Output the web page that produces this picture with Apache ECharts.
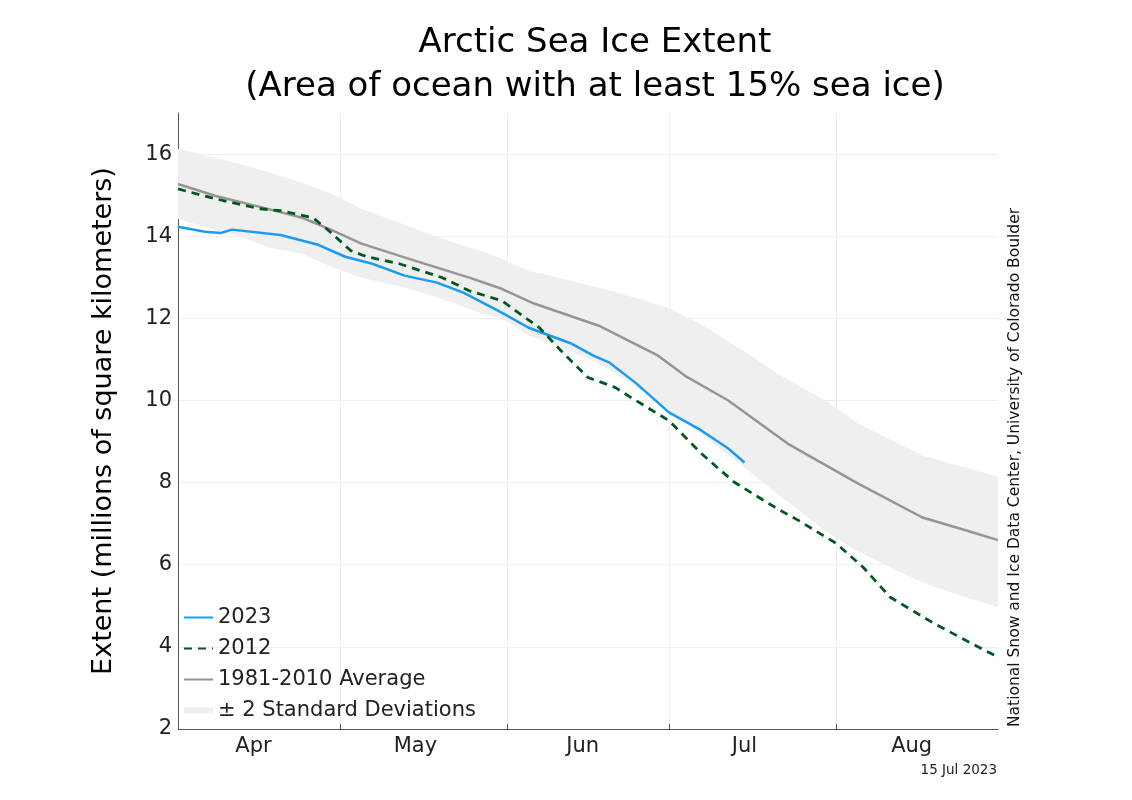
<!DOCTYPE html>
<html>
<head>
<meta charset="utf-8">
<script src="https://cdn.jsdelivr.net/npm/echarts@6/dist/echarts.min.js"></script>
<style>
  html, body { margin: 0; padding: 0; background: #ffffff; }
  #chart { width: 1132px; height: 800px; }
</style>
</head>
<body>
<div id="chart"></div>
<script>
// ---- Data (day index 0 = 1 April) ----
const monthNames = ['Jan','Feb','Mar','Apr','May','Jun','Jul','Aug','Sep','Oct','Nov','Dec'];

const days2023   = [0, 5, 8, 10, 19, 26, 31, 36, 42, 48, 53, 60, 65, 73, 77, 80, 85, 91, 97, 102, 105];
const values2023 = [14.23, 14.11, 14.08, 14.16, 14.03, 13.79, 13.5, 13.33, 13.04, 12.87, 12.62, 12.14, 11.77, 11.38, 11.09, 10.92, 10.41, 9.71, 9.27, 8.83, 8.49];

const days2012   = [0, 7, 15, 19, 25, 28, 32, 35, 41, 49, 54, 60, 67, 71, 76, 81, 84, 91, 97, 103, 111, 115, 122, 127, 132, 140, 146, 152];
const values2012 = [15.15, 14.91, 14.67, 14.62, 14.45, 14.13, 13.65, 13.5, 13.33, 12.99, 12.67, 12.43, 11.77, 11.21, 10.56, 10.32, 10.07, 9.51, 8.71, 8.02, 7.37, 7.08, 6.52, 5.94, 5.21, 4.58, 4.16, 3.75];

const avgDays   = [0, 7, 15, 23, 28, 34, 44, 54, 60, 66, 78, 89, 94, 102, 113, 126, 138, 146, 152];
const avgValues = [15.27, 14.98, 14.72, 14.45, 14.18, 13.82, 13.4, 12.99, 12.72, 12.36, 11.82, 11.09, 10.6, 10.0, 8.95, 7.98, 7.15, 6.84, 6.6];

const bandDays  = [0, 12, 17, 23, 28, 34, 42, 50, 56, 60, 65, 70, 78, 86, 91, 97, 105, 111, 120, 126, 132, 138, 145, 152];
const bandUpper = [16.13, 15.74, 15.55, 15.3, 15.06, 14.67, 14.28, 13.89, 13.65, 13.45, 13.16, 13.0, 12.75, 12.45, 12.25, 11.85, 11.2, 10.66, 10.0, 9.44, 9.05, 8.66, 8.4, 8.15];
const bandLower = [14.42, 13.96, 13.72, 13.57, 13.28, 12.99, 12.75, 12.43, 12.13, 12.0, 11.58, 11.34, 10.9, 10.24, 9.76, 9.18, 8.37, 7.74, 6.82, 6.33, 5.94, 5.57, 5.25, 4.97];

const yTicks = [2, 4, 6, 8, 10, 12, 14, 16];

// ---- Category axis: every day from 1 Apr to 31 Aug ----
const dayLabels = [];
(function () {
  const d = new Date(Date.UTC(2023, 3, 1));
  const end = new Date(Date.UTC(2023, 7, 31));
  while (d <= end) {
    dayLabels.push(d.toISOString().slice(0, 10));
    d.setUTCDate(d.getUTCDate() + 1);
  }
})();

const pairs = (xs, ys) => xs.map((x, i) => [x, ys[i]]);

const FONT = 'DejaVu Sans';
const chart = echarts.init(document.getElementById('chart'), null, { renderer: 'canvas' });

chart.setOption({
  animation: false,
  backgroundColor: '#ffffff',
  textStyle: { fontFamily: FONT },
  title: {
    text: 'Arctic Sea Ice Extent\n(Area of ocean with at least 15% sea ice)',
    left: 590,
    textAlign: 'center',
    top: 16,
    textStyle: { fontFamily: FONT, fontSize: 34, fontWeight: 'normal', color: '#000', lineHeight: 44 }
  },
  grid: { left: 178, right: 134, top: 113, bottom: 71, containLabel: false },
  legend: {
    orient: 'vertical',
    left: 183,
    top: 607,
    padding: 0,
    itemWidth: 29,
    itemHeight: 6,
    itemGap: 10,
    textStyle: { fontFamily: FONT, fontSize: 21, color: '#222', lineHeight: 21 },
    data: [
      { name: '2023', itemStyle: { opacity: 0 } },
      { name: '2012', itemStyle: { opacity: 0 } },
      { name: '1981-2010 Average', itemStyle: { opacity: 0 } },
      { name: '± 2 Standard Deviations', icon: 'rect', itemStyle: { color: '#efefef' } }
    ]
  },
  xAxis: {
    type: 'category',
    data: dayLabels,
    boundaryGap: false,
    axisLine: { show: true, lineStyle: { color: '#555', width: 1 } },
    axisTick: {
      show: true, inside: true, length: 5,
      interval: (i, v) => v.endsWith('-01') && i > 0,
      lineStyle: { color: '#555' }
    },
    splitLine: {
      show: true,
      interval: (i, v) => v.endsWith('-01') && i > 0,
      lineStyle: { color: '#efefef', width: 1 }
    },
    axisLabel: {
      interval: (i, v) => v.endsWith('-15'),
      formatter: v => monthNames[parseInt(v.slice(5, 7), 10) - 1],
      fontFamily: FONT, fontSize: 21, color: '#222', margin: 7
    }
  },
  yAxis: {
    type: 'value',
    min: 2,
    max: 17,
    interval: 2,
    axisLine: { show: true, lineStyle: { color: '#555', width: 1 } },
    axisTick: { show: false },
    splitLine: { show: true, showMaxLine: false, showMinLine: false, lineStyle: { color: '#efefef', width: 1 } },
    axisLabel: {
      showMaxLabel: false,
      formatter: v => (yTicks.indexOf(v) >= 0 ? String(v) : ''),
      fontFamily: FONT, fontSize: 21, color: '#222', margin: 6
    }
  },
  graphic: [
    {
      type: 'text', x: 104, y: 421, rotation: Math.PI / 2,
      style: { text: 'Extent (millions of square kilometers)', fontFamily: FONT, fontSize: 27, fill: '#000', align: 'center', verticalAlign: 'middle' }
    },
    {
      type: 'text', x: 1015, y: 727, rotation: Math.PI / 2,
      style: { text: 'National Snow and Ice Data Center, University of Colorado Boulder', fontFamily: FONT, fontSize: 15.5, fill: '#111', align: 'left', verticalAlign: 'middle' }
    },
    {
      type: 'text', x: 997, y: 770,
      style: { text: '15 Jul 2023', fontFamily: FONT, fontSize: 13.5, fill: '#222', align: 'right', verticalAlign: 'middle' }
    }
  ],
  series: [
    {
      name: 'sdBase', type: 'line', stack: 'sd', silent: true,
      data: pairs(bandDays, bandLower),
      symbol: 'none', lineStyle: { opacity: 0 }, z: 1
    },
    {
      name: '± 2 Standard Deviations', type: 'line', stack: 'sd', silent: true,
      data: pairs(bandDays, bandUpper.map((u, i) => +(u - bandLower[i]).toFixed(3))),
      symbol: 'none', lineStyle: { opacity: 0 },
      itemStyle: { color: '#efefef' },
      areaStyle: { color: '#efefef', opacity: 1 }, z: 1
    },
    {
      name: '1981-2010 Average', type: 'line',
      data: pairs(avgDays, avgValues),
      symbol: 'none', itemStyle: { color: '#959595' },
      lineStyle: { color: '#959595', width: 2.5 }, z: 2
    },
    {
      name: '2023', type: 'line',
      data: pairs(days2023, values2023),
      symbol: 'none', itemStyle: { color: '#1a9bf2' },
      lineStyle: { color: '#1a9bf2', width: 2.5 }, z: 3
    },
    {
      name: '2012', type: 'line',
      data: pairs(days2012, values2012),
      symbol: 'none', itemStyle: { color: '#00571f' },
      lineStyle: { color: '#00571f', width: 2.8, type: [8, 6] }, z: 4
    }
  ]
});
</script>
</body>
</html>
